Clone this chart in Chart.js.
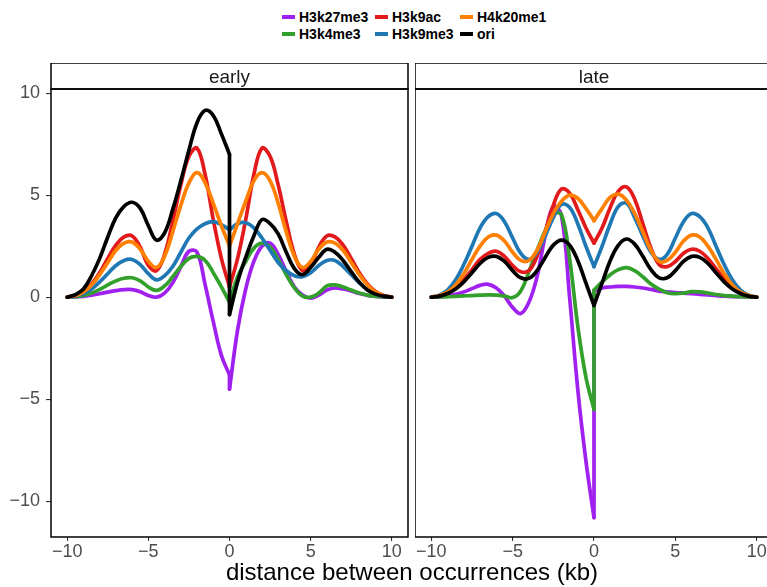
<!DOCTYPE html>
<html>
<head>
<meta charset="utf-8">
<script src="https://cdn.jsdelivr.net/npm/chart.js@4.4.1/dist/chart.umd.min.js"></script>
<style>
  body { margin: 0; width: 767px; height: 587px; overflow: hidden; position: relative; background: #fff;
         font-family: "Liberation Sans", Arial, sans-serif; }
  canvas { position: absolute; top: 63px; }
  #early { left: 0; }
  #late { left: 415px; }
  .key { position: absolute; left: 282px; top: 9px; display: grid; grid-template-rows: 17px 17px;
         grid-template-columns: 93px 85px auto; grid-auto-flow: column; font-weight: bold; font-size: 14px; line-height: 17px; color: #000; }
  .key div { display: flex; align-items: center; white-space: nowrap; }
  .key span { display: inline-block; width: 13px; height: 4px; margin-right: 4px; position: relative; top: -1px; }
  .xtitle { position: absolute; left: 212px; width: 400px; top: 560px; text-align: center; font-size: 24px; line-height: 1; white-space: nowrap; color: #000; }
</style>
</head>
<body>
<div class="key" id="key"></div>
<canvas id="early" width="409" height="504"></canvas>
<canvas id="late" width="358" height="504"></canvas>
<div class="xtitle">distance between occurrences (kb)</div>
<script>
// distance from the occurrence (kb); 0 appears twice for the jump at the centre
const distance = [-10, -9.5, -9, -8.5, -8, -7.5, -7, -6.5, -6, -5.5, -5, -4.5, -4, -3.5, -3, -2.5, -2, -1.5, -1, -0.5, 0,
                  0, 0.5, 1, 1.5, 2, 2.5, 3, 3.5, 4, 4.5, 5, 5.5, 6, 6.5, 7, 7.5, 8, 8.5, 9, 9.5, 10];
const marks = ['H3k27me3', 'H3k4me3', 'H3k9ac', 'H3k9me3', 'H4k20me1', 'ori'];
const colours = ['#a020f0', '#33a02c', '#e31a1c', '#1f78b4', '#ff7f00', '#000000'];
const panels = ['early', 'late'];
const xTicks = [-10, -5, 0, 5, 10];
const yTicks = [-10, -5, 0, 5, 10];

// early replication
const earlyH3k27me3 = [0, 0.01, 0.04, 0.1, 0.17, 0.25, 0.32, 0.37, 0.37, 0.27, 0.08, 0, 0.2, 0.7, 1.5, 2.25, 2.2, 0.6, -1.2, -2.85, -3.8,
                       -4.5, -1.6, 0.4, 1.75, 2.5, 2.65, 2.1, 1.25, 0.5, 0.1, -0.05, 0.1, 0.35, 0.45, 0.4, 0.3, 0.18, 0.09, 0.04, 0.01, 0];
const earlyH3k4me3 = [0, 0.02, 0.08, 0.2, 0.38, 0.6, 0.8, 0.93, 0.95, 0.8, 0.5, 0.33, 0.55, 1.0, 1.5, 1.9, 2.0, 1.8, 1.2, 0.5, -0.25,
                      -0.25, 1.0, 1.75, 2.4, 2.65, 2.45, 1.85, 1.1, 0.45, 0.05, 0, 0.2, 0.55, 0.6, 0.5, 0.35, 0.2, 0.1, 0.04, 0.01, 0];
const earlyH3k9ac = [0, 0.08, 0.28, 0.65, 1.2, 1.9, 2.55, 2.95, 3.0, 2.45, 1.55, 1.3, 2.1, 3.7, 5.5, 6.9, 7.3, 6.0, 3.8, 1.9, 0.5,
                     0.5, 1.9, 3.8, 6.0, 7.3, 6.9, 5.5, 3.7, 2.1, 1.3, 1.55, 2.45, 3.0, 2.95, 2.55, 1.9, 1.2, 0.65, 0.28, 0.08, 0];
const earlyH3k9me3 = [0, 0.05, 0.17, 0.4, 0.75, 1.15, 1.55, 1.8, 1.85, 1.6, 1.15, 0.85, 1.05, 1.5, 2.2, 2.9, 3.35, 3.6, 3.7, 3.55, 3.3,
                      3.3, 3.6, 3.65, 3.4, 2.9, 2.3, 1.7, 1.3, 1.05, 1.0, 1.2, 1.55, 1.8, 1.8, 1.5, 1.1, 0.7, 0.38, 0.16, 0.05, 0];
const earlyH4k20me1 = [0, 0.07, 0.25, 0.6, 1.1, 1.7, 2.3, 2.65, 2.7, 2.35, 1.75, 1.45, 2.0, 3.2, 4.5, 5.6, 6.1, 5.6, 4.6, 3.5, 2.5,
                       2.5, 3.6, 4.7, 5.7, 6.1, 5.7, 4.6, 3.2, 2.0, 1.45, 1.75, 2.35, 2.7, 2.65, 2.3, 1.7, 1.1, 0.6, 0.25, 0.07, 0];
const earlyOri = [0, 0.12, 0.4, 1.05, 1.9, 2.95, 3.9, 4.45, 4.65, 4.35, 3.5, 2.8, 3.15, 4.3, 5.7, 7.2, 8.55, 9.15, 8.9, 8.0, 7.0,
                  -0.85, 0.75, 1.95, 3.0, 3.8, 3.6, 3.1, 2.2, 1.4, 1.1, 1.45, 1.95, 2.35, 2.2, 1.8, 1.25, 0.73, 0.35, 0.15, 0.05, 0];

// late replication
const lateH3k27me3 = [0, 0.02, 0.06, 0.14, 0.26, 0.42, 0.58, 0.63, 0.45, 0.05, -0.5, -0.8, -0.25, 1.0, 3.0, 4.45, 4.0, 0, -4.5, -8.0, -10.8,
                      0.3, 0.45, 0.5, 0.53, 0.53, 0.5, 0.45, 0.38, 0.3, 0.26, 0.22, 0.2, 0.17, 0.14, 0.11, 0.08, 0.05, 0.03, 0.02, 0.01, 0];
const lateH3k4me3 = [0, 0.01, 0.02, 0.04, 0.06, 0.08, 0.1, 0.11, 0.1, 0.05, -0.02, 0.3, 1.25, 2.3, 3.25, 4.05, 4.05, 1.9, -1.4, -3.9, -5.5,
                     0.35, 0.75, 1.1, 1.35, 1.45, 1.3, 1.0, 0.65, 0.4, 0.22, 0.17, 0.2, 0.27, 0.26, 0.2, 0.13, 0.08, 0.05, 0.02, 0.01, 0];
const lateH3k9ac = [0, 0.06, 0.2, 0.45, 0.85, 1.35, 1.85, 2.15, 2.25, 2.0, 1.55, 1.25, 1.3, 2.0, 3.2, 4.5, 5.3, 5.1, 4.3, 3.4, 2.65,
                    2.65, 3.4, 4.4, 5.2, 5.4, 4.8, 3.6, 2.4, 1.6, 1.5, 1.75, 2.15, 2.35, 2.25, 1.9, 1.4, 0.9, 0.5, 0.2, 0.06, 0];
const lateH3k9me3 = [0, 0.1, 0.35, 0.85, 1.6, 2.5, 3.4, 3.95, 4.1, 3.7, 2.9, 2.15, 1.85, 2.2, 3.0, 3.9, 4.55, 4.4, 3.6, 2.5, 1.5,
                     1.5, 2.5, 3.6, 4.45, 4.6, 3.9, 3.0, 2.2, 1.85, 2.1, 2.9, 3.7, 4.1, 3.95, 3.4, 2.5, 1.6, 0.85, 0.35, 0.1, 0];
const lateH4k20me1 = [0, 0.08, 0.25, 0.6, 1.15, 1.85, 2.5, 2.95, 3.04, 2.75, 2.2, 1.8, 1.8, 2.3, 3.2, 4.1, 4.7, 5.0, 4.85, 4.35, 3.75,
                      3.75, 4.35, 4.9, 5.05, 4.75, 4.1, 3.2, 2.3, 1.75, 1.8, 2.2, 2.75, 3.04, 2.95, 2.5, 1.85, 1.15, 0.6, 0.25, 0.08, 0];
const lateOri = [0, 0.05, 0.18, 0.4, 0.75, 1.2, 1.65, 1.95, 2.0, 1.75, 1.3, 0.95, 0.92, 1.3, 1.95, 2.55, 2.8, 2.55, 1.8, 0.7, -0.4,
                 -0.4, 0.7, 1.8, 2.55, 2.85, 2.6, 2.0, 1.35, 0.95, 0.95, 1.3, 1.75, 2.0, 1.95, 1.65, 1.2, 0.75, 0.4, 0.18, 0.05, 0];

const earlySeries = [earlyH3k27me3, earlyH3k4me3, earlyH3k9ac, earlyH3k9me3, earlyH4k20me1, earlyOri];
const lateSeries = [lateH3k27me3, lateH3k4me3, lateH3k9ac, lateH3k9me3, lateH4k20me1, lateOri];

// legend, filled column by column
const key = document.getElementById('key');
marks.forEach((m, i) => {
  const item = document.createElement('div');
  item.innerHTML = '<span style="background:' + colours[i] + '"></span>' + m;
  key.appendChild(item);
});

const minus = v => (v < 0 ? '\u2212' + Math.abs(v) : String(v));
const tickFont = { family: '"Liberation Sans", Arial, sans-serif', size: 18 };

// index of the right-hand value at distance 0
const jumpAt = distance.lastIndexOf(0);

// smooth curve with a break at 0 so both sides keep sharp ends there
function curve(vals) {
  const pts = distance.map((x, k) => ({ x: x, y: vals[k] }));
  pts.splice(jumpAt, 0, { x: 0, y: null });
  return pts;
}

// facet strip above the panel plus the panel frame
const stripPlugin = {
  id: 'strip',
  afterDraw(chart, args, opts) {
    const { ctx, chartArea: a } = chart;
    ctx.save();
    ctx.fillStyle = '#fff';
    ctx.fillRect(a.left, a.top - 26, a.right - a.left, 26);
    ctx.strokeStyle = '#000';
    ctx.lineWidth = 1.5;
    ctx.strokeRect(a.left, a.top - 26, a.right - a.left, 26);
    ctx.strokeRect(a.left, a.top, a.right - a.left, a.bottom - a.top);
    ctx.fillStyle = '#1a1a1a';
    ctx.font = '19px "Liberation Sans", Arial, sans-serif';
    ctx.textAlign = 'center';
    ctx.textBaseline = 'alphabetic';
    ctx.fillText(opts.text, (a.left + a.right) / 2, a.top - 6.5);
    ctx.restore();
  }
};

function panelChart(id, label, series, showY) {
  const datasets = [];
  marks.forEach((m, i) => {
    const look = { borderColor: colours[i], borderWidth: 3.7, borderCapStyle: 'round', borderJoinStyle: 'round',
                   pointRadius: 0, fill: false, order: marks.length - i };
    datasets.push(Object.assign({ label: m, data: curve(series[i]), tension: 0.4, spanGaps: false }, look));
    // vertical step at 0
    datasets.push(Object.assign({ label: m + ' step', tension: 0,
      data: [{ x: 0, y: series[i][jumpAt - 1] }, { x: 0, y: series[i][jumpAt] }] }, look));
  });

  return new Chart(document.getElementById(id), {
    type: 'line',
    data: { datasets: datasets },
    options: {
      responsive: false,
      animation: false,
      events: [],
      layout: { padding: { top: 26, right: showY ? 1 : 0, left: 0, bottom: 0 } },
      plugins: { legend: { display: false }, tooltip: { enabled: false }, strip: { text: label } },
      scales: {
        x: {
          type: 'linear', min: -11, max: 11,
          afterBuildTicks: s => { s.ticks = xTicks.map(v => ({ value: v })); },
          afterFit: s => { s.height = 30; },
          border: { display: false },
          grid: { drawOnChartArea: false, drawTicks: true, tickLength: 4, color: '#333', lineWidth: 1.1 },
          ticks: { font: tickFont, color: '#4d4d4d', padding: 0, maxRotation: 0, autoSkip: false, callback: minus }
        },
        y: {
          type: 'linear', min: -11.75, max: 10.2, display: showY,
          afterBuildTicks: s => { s.ticks = yTicks.map(v => ({ value: v })); },
          afterFit: s => { s.width = showY ? 51 : 0; },
          border: { display: false },
          grid: { drawOnChartArea: false, drawTicks: true, tickLength: 5, color: '#333', lineWidth: 1.1 },
          ticks: { font: tickFont, color: '#4d4d4d', padding: 6, autoSkip: false, callback: minus }
        }
      }
    },
    plugins: [stripPlugin]
  });
}

panelChart('early', panels[0], earlySeries, true);
panelChart('late', panels[1], lateSeries, false);
</script>
</body>
</html>
